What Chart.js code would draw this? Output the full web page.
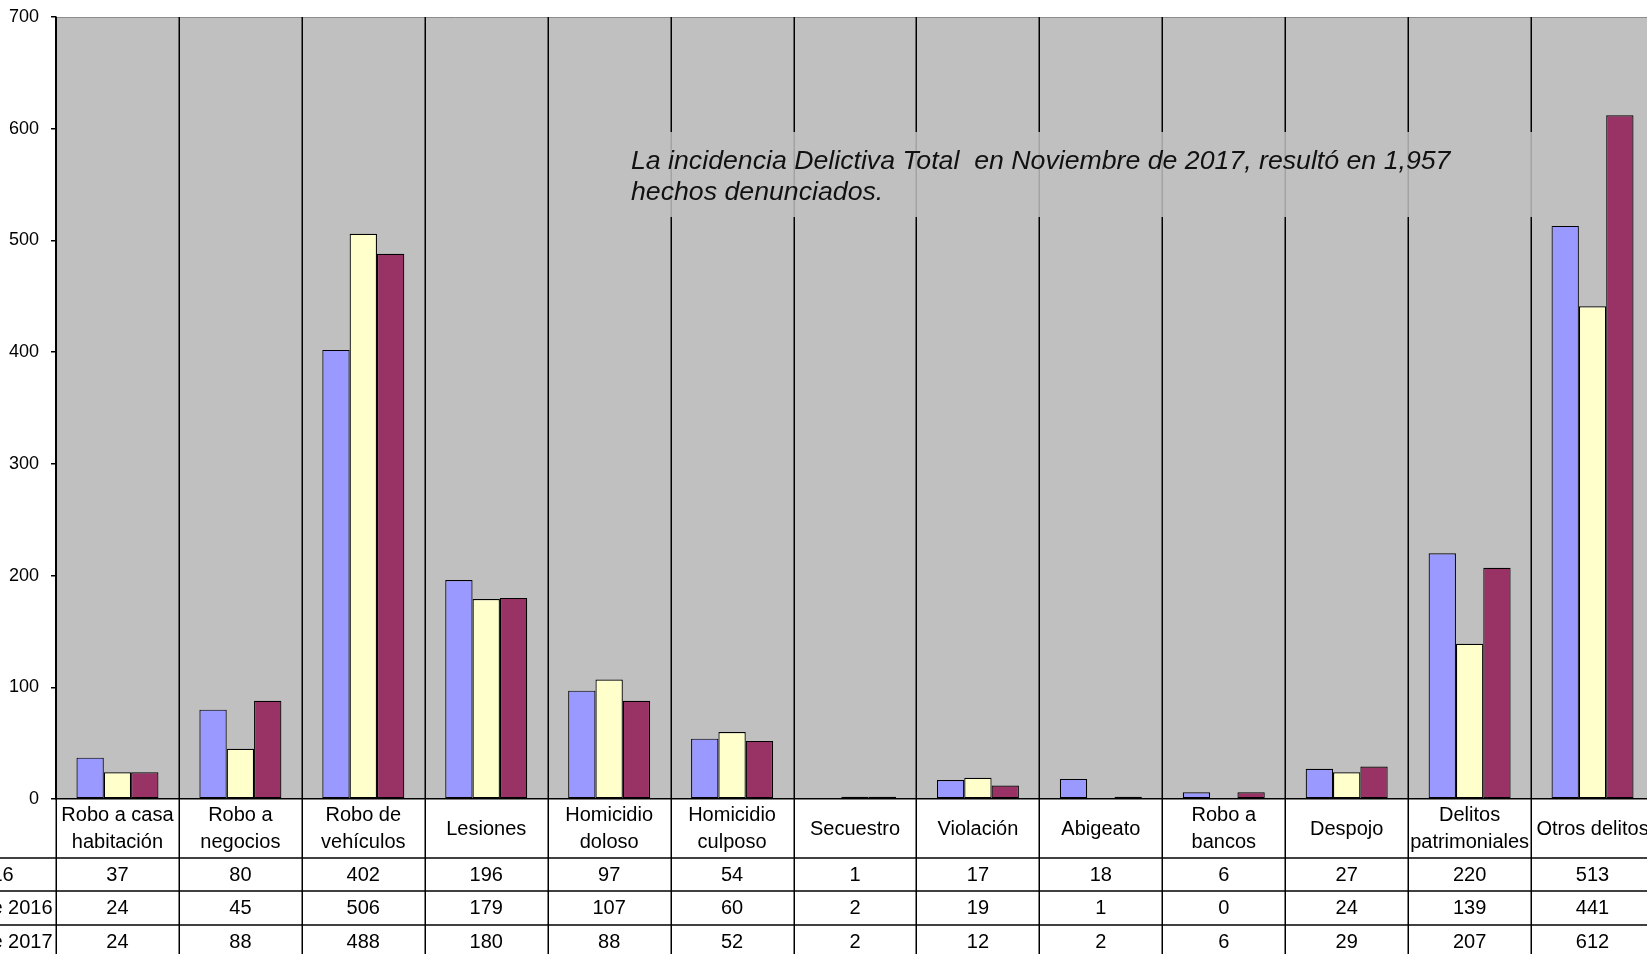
<!DOCTYPE html>
<html>
<head>
<meta charset="utf-8">
<script src="https://cdn.jsdelivr.net/npm/chart.js@4/dist/chart.umd.min.js"></script>
<style>
  html, body { margin: 0; padding: 0; overflow: hidden; background: #fff; }
  #wrap { width: 1647px; height: 954px; overflow: hidden; position: relative; }
  canvas { position: absolute; left: 0; top: 0; }
</style>
</head>
<body>
<div id="wrap"><canvas id="chart" width="1700" height="954"></canvas></div>
<script>
const categories = [
  ['Robo a casa', 'habitación'], ['Robo a', 'negocios'], ['Robo de', 'vehículos'], ['Lesiones'],
  ['Homicidio', 'doloso'], ['Homicidio', 'culposo'], ['Secuestro'], ['Violación'], ['Abigeato'],
  ['Robo a', 'bancos'], ['Despojo'], ['Delitos', 'patrimoniales'], ['Otros delitos']
];
const seriesNames = ['Promedio 2016', 'Noviembre de 2016', 'Noviembre de 2017'];
const promedio2016 = [37, 80, 402, 196, 97, 54, 1, 17, 18, 6, 27, 220, 513];
const nov2016 = [24, 45, 506, 179, 107, 60, 2, 19, 1, 0, 24, 139, 441];
const nov2017 = [24, 88, 488, 180, 88, 52, 2, 12, 2, 6, 29, 207, 612];
const yTicks = [0, 100, 200, 300, 400, 500, 600, 700];
const note = ['La incidencia Delictiva Total  en Noviembre de 2017, resultó en 1,957', 'hechos denunciados.'];

const FONT = '"Liberation Sans", Arial, sans-serif';
const colors = ['#9999FF', '#FFFFCC', '#993366'];
const rows = [promedio2016, nov2016, nov2017];

// table rows under the axis: label row, then one row per series
const ROW_LINES = [858, 891, 925];
const ROW_CENTERS = [875, 908, 942];

const tablePlugin = {
  id: 'tablePlugin',
  beforeDraw(chart) {
    const { ctx, chartArea: a } = chart;
    ctx.save();
    ctx.fillStyle = '#C0C0C0';
    ctx.fillRect(a.left, a.top, a.right - a.left, a.bottom - a.top);
    ctx.strokeStyle = '#8c8c8c';
    ctx.lineWidth = 1;
    ctx.beginPath();
    ctx.moveTo(a.left, a.top + 0.5);
    ctx.lineTo(a.right, a.top + 0.5);
    ctx.stroke();
    ctx.restore();
  },
  beforeDatasetsDraw(chart) {
    const { ctx, chartArea: a, scales: { x } } = chart;
    const step = x.width / categories.length;
    ctx.save();
    ctx.strokeStyle = '#000';
    ctx.lineWidth = 1.5;
    for (let i = 0; i <= categories.length; i++) {
      const px = Math.round(x.left + i * step) + 0.25;
      ctx.beginPath();
      ctx.moveTo(px, a.top);
      ctx.lineTo(px, chart.height);
      ctx.stroke();
    }
    // text box lying over the grid
    ctx.fillStyle = 'rgba(192,192,192,0.85)';
    ctx.fillRect(615, 132, 945, 85);
    ctx.fillStyle = '#111';
    ctx.font = 'italic 26.7px ' + FONT;
    ctx.textBaseline = 'alphabetic';
    ctx.textAlign = 'left';
    ctx.fillText(note[0], 631, 169);
    ctx.fillText(note[1], 631, 200);
    ctx.restore();
  },
  afterDraw(chart) {
    const { ctx, scales: { x } } = chart;
    ctx.save();
    ctx.strokeStyle = '#000';
    ctx.lineWidth = 1.5;
    ROW_LINES.forEach(y => {
      ctx.beginPath();
      ctx.moveTo(0, y);
      ctx.lineTo(chart.width, y);
      ctx.stroke();
    });
    ctx.fillStyle = '#000';
    ctx.font = '20px ' + FONT;
    ctx.textBaseline = 'middle';
    ctx.textAlign = 'center';
    categories.forEach((lines, i) => {
      const cx = x.getPixelForValue(i);
      if (lines.length === 2) {
        ctx.fillText(lines[0], cx, 815);
        ctx.fillText(lines[1], cx, 842);
      } else {
        ctx.fillText(lines[0], cx, 829);
      }
      rows.forEach((vals, r) => ctx.fillText(String(vals[i]), cx, ROW_CENTERS[r]));
    });
    // series names sit in the left column, mostly off screen
    ctx.textAlign = 'left';
    seriesNames.forEach((name, r) => ctx.fillText(name, -122, ROW_CENTERS[r]));
    ctx.restore();
  }
};

new Chart(document.getElementById('chart'), {
  type: 'bar',
  data: {
    labels: categories,
    datasets: seriesNames.map((name, r) => ({
      label: name,
      data: rows[r],
      backgroundColor: colors[r],
      borderColor: '#000',
      borderWidth: 1.2,
      borderSkipped: false,
      categoryPercentage: 0.667,
      barPercentage: 1.0
    }))
  },
  options: {
    responsive: false,
    devicePixelRatio: 1,
    animation: false,
    layout: { padding: { top: 17, right: 46, left: 0, bottom: 0 } },
    plugins: { legend: { display: false }, tooltip: { enabled: false } },
    scales: {
      x: {
        offset: true,
        grid: { display: false },
        border: { display: true, color: '#000', width: 1.5 },
        ticks: { display: false },
        afterFit: s => { s.height = 155; }
      },
      y: {
        min: 0,
        max: 700,
        afterBuildTicks: s => { s.ticks = yTicks.map(v => ({ value: v })); },
        grid: { drawOnChartArea: false, drawTicks: true, tickLength: 5, color: '#000', lineWidth: 1.5 },
        border: { display: true, color: '#000', width: 1.5 },
        ticks: { color: '#000', font: { family: FONT, size: 18 }, padding: 12 },
        afterFit: s => {
          s.width = 56;
          s.paddingTop = 0;
          s.paddingBottom = 0;
        }
      }
    }
  },
  plugins: [tablePlugin]
});
</script>
</body>
</html>
